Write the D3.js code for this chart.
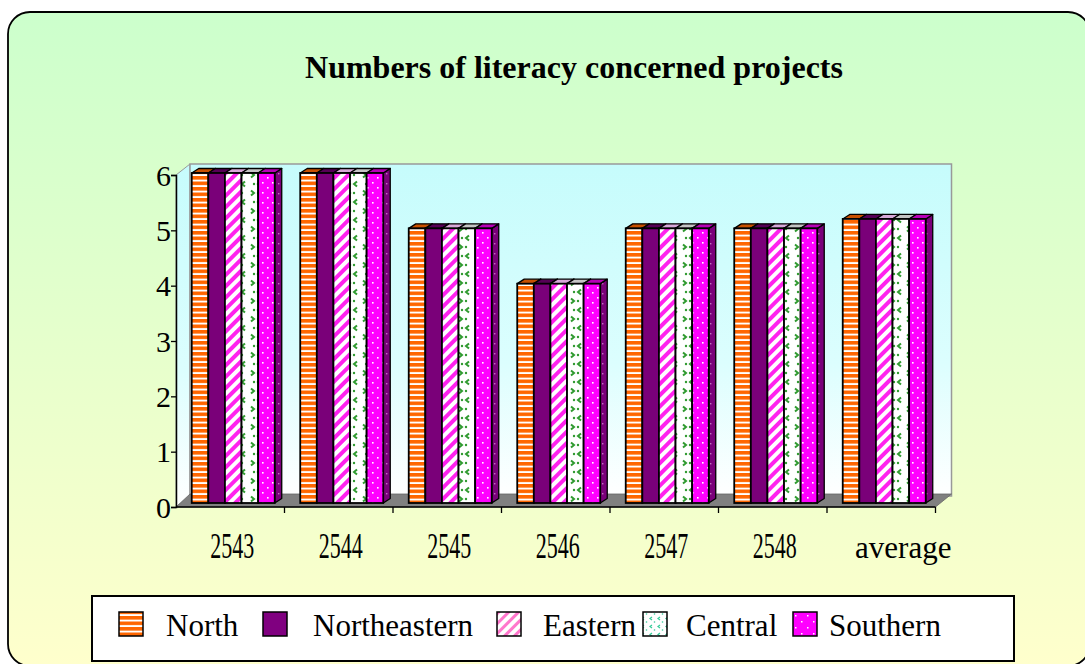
<!DOCTYPE html>
<html><head><meta charset="utf-8">
<script src="https://cdn.jsdelivr.net/npm/d3@7"></script>
<style>html,body{margin:0;padding:0;background:#fff;}svg{display:block;}</style>
</head><body>
<svg id="chart" width="1085" height="664"></svg>
<script>
const categories = ["2543","2544","2545","2546","2547","2548","average"];
const seriesNames = ["North","Northeastern","Eastern","Central","Southern"];
const northValues = [6,6,5,4,5,5,5.17];
const northeasternValues = [6,6,5,4,5,5,5.17];
const easternValues = [6,6,5,4,5,5,5.17];
const centralValues = [6,6,5,4,5,5,5.17];
const southernValues = [6,6,5,4,5,5,5.17];
const yTicks = [0,1,2,3,4,5,6];
const titleText = "Numbers of literacy concerned projects";

const seriesValues = [northValues, northeasternValues, easternValues, centralValues, southernValues];
const FONT = "'Liberation Serif','Times New Roman',serif";

const svg = d3.select("#chart");
const defs = svg.append("defs");

// background gradient
const bg = defs.append("linearGradient").attr("id","bgGrad").attr("x1",0).attr("y1",0).attr("x2",0).attr("y2",1);
bg.append("stop").attr("offset","0%").attr("stop-color","#ccffcc");
bg.append("stop").attr("offset","100%").attr("stop-color","#ffffcc");
const wg = defs.append("linearGradient").attr("id","wallGrad").attr("x1",0).attr("y1",0).attr("x2",0).attr("y2",1);
wg.append("stop").attr("offset","0%").attr("stop-color","#c6fcfc");
wg.append("stop").attr("offset","60%").attr("stop-color","#dcfefe");
wg.append("stop").attr("offset","100%").attr("stop-color","#ffffff");

// patterns
function pat(id, w, h, bgc, extra){
  const p = defs.append("pattern").attr("id",id).attr("patternUnits","userSpaceOnUse").attr("width",w).attr("height",h);
  p.append("rect").attr("width",w).attr("height",h).attr("fill",bgc);
  extra(p);
  return p;
}
pat("pNorth",6,5.5,"#ffffff",p=>{p.append("rect").attr("x",0).attr("y",0).attr("width",6).attr("height",3.6).attr("fill","#ff6600");});
pat("pEast",8,8,"#ffffff",p=>{p.append("rect").attr("x",0).attr("y",0).attr("width",4).attr("height",8).attr("fill","#ff22ee");})
  .attr("patternTransform","rotate(45)");
pat("pCentral",16,18,"#ffffff",p=>{
  p.append("path").attr("d","M5,1.5 L2,4 L5,6.5").attr("stroke","#2f9a2f").attr("stroke-width",2).attr("fill","none");
  p.append("path").attr("d","M11,10.5 L14,13 L11,15.5").attr("stroke","#2f9a2f").attr("stroke-width",2).attr("fill","none");
  p.append("circle").attr("cx",14).attr("cy",4).attr("r",1.2).attr("fill","#2f9a2f");
  p.append("circle").attr("cx",2).attr("cy",13).attr("r",1.2).attr("fill","#2f9a2f");
});
pat("pSouth",10,10,"#ff00ff",p=>{
  p.append("rect").attr("x",2).attr("y",2).attr("width",1.6).attr("height",1.6).attr("fill","#ffffff");
  p.append("rect").attr("x",7).attr("y",7).attr("width",1.6).attr("height",1.6).attr("fill","#ffffff");
});
pat("pSide",6,10,"#7a007a",p=>{
  p.append("rect").attr("x",2).attr("y",3).attr("width",1.4).attr("height",1.4).attr("fill","#c070c0");
});
pat("pLegCentral",8,8,"#ffffff",p=>{
  p.append("path").attr("d","M4,1 L2,2.5 L4,4").attr("stroke","#33cc99").attr("stroke-width",1.2).attr("fill","none");
  p.append("circle").attr("cx",6.5).attr("cy",6).attr("r",0.8).attr("fill","#33cc99");
});
pat("pLegEast",7,7,"#ffffff",p=>{p.append("rect").attr("width",3).attr("height",7).attr("fill","#ff77cc");})
  .attr("patternTransform","rotate(45)");
pat("pLegSouth",12,12,"#ff00ff",p=>{
  p.append("rect").attr("x",3).attr("y",3).attr("width",1.5).attr("height",1.5).attr("fill","#fff");
  p.append("rect").attr("x",9).attr("y",9).attr("width",1.5).attr("height",1.5).attr("fill","#fff");
});

const frontFill = ["url(#pNorth)","#7a0079","url(#pEast)","url(#pCentral)","url(#pSouth)"];
const topFill = ["#c85000","#560056","#d8a8d8","#c4c4c4","#b800b8"];
const legendFill = ["url(#pNorth)","#800080","url(#pLegEast)","url(#pLegCentral)","url(#pLegSouth)"];

// outer frame
svg.append("rect").attr("x",8).attr("y",12).attr("width",1082).attr("height",654).attr("rx",22).attr("ry",22)
  .attr("fill","url(#bgGrad)").attr("stroke","#000").attr("stroke-width",1.8);

// title
svg.append("text").attr("x",574).attr("y",78).attr("text-anchor","middle")
  .attr("font-family",FONT).attr("font-weight","bold").attr("font-size",32).text(titleText);

// scales
const x0 = 176, x1 = 935.5, y0 = 507, y6 = 175;
const x = d3.scaleBand().domain(categories).range([x0,x1]).paddingInner(0).paddingOuter(0);
const y = d3.scaleLinear().domain([0,6]).range([y0,y6]);
const wdx = 14, wdy = -11; // wall depth
const bw = x.bandwidth();

// walls
const g = svg.append("g");
g.append("path").attr("d",`M${x0},${y0} L${x0},${y6} L${x0+wdx},${y6+wdy} L${x0+wdx},${y0+wdy} Z`)
  .attr("fill","url(#wallGrad)").attr("stroke","#999").attr("stroke-width",1);
g.append("rect").attr("x",x0+wdx).attr("y",y6+wdy).attr("width",x1-x0+2).attr("height",y0-y6)
  .attr("fill","url(#wallGrad)").attr("stroke","#999").attr("stroke-width",1.5);
// floor
g.append("path").attr("d",`M${x0},${y0} L${x0+wdx},${y0+wdy-2} L${x1+wdx+2},${y0+wdy-2} L${x1},${y0} Z`)
  .attr("fill","#808080").attr("stroke","#666").attr("stroke-width",0.8);

// bars
const barW = bw*0.153, leftOff = bw*0.145;
const bdx = 7, bdy = -4.5, fOffY = -4;
const bars = g.append("g");
categories.forEach((c,ci)=>{
  seriesNames.forEach((s,si)=>{
    const v = seriesValues[si][ci];
    const bx = x(c) + leftOff + si*barW;
    const by = y(v) + fOffY + 2, bb = y(0) + fOffY;
    const grp = bars.append("g");
    // side
    grp.append("path").attr("d",`M${bx+barW},${bb} L${bx+barW+bdx},${bb+bdy} L${bx+barW+bdx},${by+bdy} L${bx+barW},${by} Z`)
      .attr("fill", si===4 ? "url(#pSide)" : "#444").attr("stroke","#000").attr("stroke-width",1.3).attr("stroke-linejoin","round");
    // top
    grp.append("path").attr("d",`M${bx},${by} L${bx+bdx},${by+bdy} L${bx+barW+bdx},${by+bdy} L${bx+barW},${by} Z`)
      .attr("fill", topFill[si]).attr("stroke","#000").attr("stroke-width",1.3).attr("stroke-linejoin","round");
    // front
    grp.append("rect").attr("x",bx).attr("y",by).attr("width",barW).attr("height",bb-by)
      .attr("fill", frontFill[si]).attr("stroke","#000").attr("stroke-width",1.8);
  });
});

// y axis
const yAxis = svg.append("g").attr("transform",`translate(${x0},0)`)
  .call(d3.axisLeft(y).tickValues(yTicks).tickSize(5).tickPadding(0).tickFormat(d3.format("d")));
yAxis.select(".domain").attr("stroke","#000").attr("stroke-width",1.5);
yAxis.selectAll(".tick line").attr("stroke","#000").attr("stroke-width",1.3);
yAxis.selectAll(".tick text").attr("font-family",FONT).attr("font-size",30).attr("fill","#000").attr("dy","0.34em");

// x axis
const xAxisG = svg.append("g");
xAxisG.append("line").attr("x1",x0).attr("x2",x1).attr("y1",y0).attr("y2",y0).attr("stroke","#000").attr("stroke-width",1.5);
xAxisG.selectAll("line.tk").data(categories.slice(1).concat(["__end"])).enter().append("line").attr("class","tk")
  .attr("x1",d=> d==="__end" ? x1 : x(d)).attr("x2",d=> d==="__end" ? x1 : x(d))
  .attr("y1",y0).attr("y2",y0+6).attr("stroke","#000").attr("stroke-width",1.3);
xAxisG.selectAll("text").data(categories).enter().append("text")
  .attr("x",d=>x(d)+bw/2 + (d==="average" ? 22 : 2)).attr("y",558).attr("text-anchor","middle")
  .attr("font-family",FONT).attr("font-size",d=> d==="average" ? 31 : 35)
  .each(function(d){ if(d!=="average"){ d3.select(this).attr("textLength",44).attr("lengthAdjust","spacingAndGlyphs"); } })
  .text(d=>d);

// legend
const lg = svg.append("g");
lg.append("rect").attr("x",92).attr("y",596).attr("width",922).attr("height",65)
  .attr("fill","#ffffff").attr("stroke","#000").attr("stroke-width",2);
const legendSwatchX = [119, 263, 497, 643, 793];
const legendTextX = [166, 313, 543, 686, 829];
seriesNames.forEach((s,i)=>{
  lg.append("rect").attr("x",legendSwatchX[i]).attr("y",612).attr("width",24).attr("height",24)
    .attr("fill",legendFill[i]).attr("stroke","#000").attr("stroke-width",1.5);
  lg.append("text").attr("x",legendTextX[i]).attr("y",636).attr("font-family",FONT).attr("font-size",31).text(s);
});
</script>
</body></html>
